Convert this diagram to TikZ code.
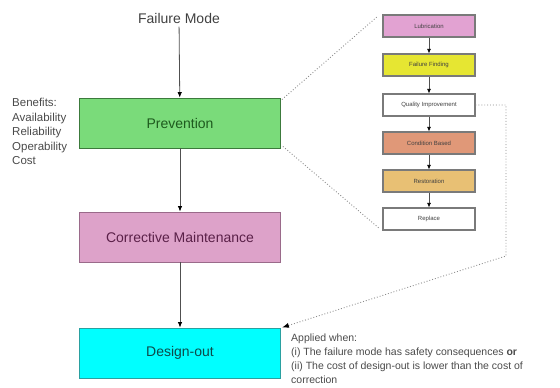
\documentclass[tikz,border=0pt]{standalone}
\usepackage{fontspec}
\setmainfont{Liberation Sans}
\usetikzlibrary{arrows.meta}
\definecolor{prevfill}{HTML}{7ADB7A}
\definecolor{prevline}{HTML}{3C7A3C}
\definecolor{prevtext}{HTML}{1E5A1E}
\definecolor{corrfill}{HTML}{DDA2C9}
\definecolor{corrline}{HTML}{9A6A8A}
\definecolor{corrtext}{HTML}{5A2048}
\definecolor{desfill}{HTML}{00FFFF}
\definecolor{desline}{HTML}{2AA0A0}
\definecolor{destext}{HTML}{0E4A4A}
\definecolor{lubfill}{HTML}{E2A2D2}
\definecolor{fffill}{HTML}{E6E632}
\definecolor{cbfill}{HTML}{E09878}
\definecolor{restfill}{HTML}{E8C074}
\definecolor{boxline}{HTML}{7A7A7A}
\definecolor{flow}{HTML}{505050}
\definecolor{note}{HTML}{4A4A4A}
\tikzset{
  mainbox/.style={draw, line width=0.9pt, minimum width=201pt, minimum height=50pt,
    inner sep=0pt, font=\fontsize{14}{16}\selectfont},
  smallbox/.style={draw=boxline, line width=1.1pt, minimum width=92pt, minimum height=22pt,
    inner sep=0pt, text=black!75, font=\fontsize{6}{7}\selectfont},
  flowarrow/.style={draw=flow, line width=0.8pt, -{Latex[length=5.5pt,width=4.5pt,color=black]}},
  linkline/.style={draw=black!45, line width=0.9pt, dotted},
  notetext/.style={text=note, align=left, inner sep=0pt, anchor=north west}
}
\begin{document}
\begin{tikzpicture}[x=1pt,y=-1pt]
\useasboundingbox (0,0) rectangle (560,388);

% main chain
\node[font=\fontsize{14}{16}\selectfont, text=black!75] (fm) at (179,18) {Failure Mode};
\node[mainbox, fill=prevfill, draw=prevline, text=prevtext] (prev) at (180,123) {Prevention};
\node[mainbox, fill=corrfill, draw=corrline, text=corrtext] (corr) at (180,237) {Corrective Maintenance};
\node[mainbox, fill=desfill, draw=desline, text=destext] (des) at (180,353) {Design-out};

\draw[flowarrow] (fm) -- (prev);
\draw[flowarrow] (prev) -- (corr);
\draw[flowarrow] (corr) -- (des);

% benefits of prevention
\node[notetext, font=\fontsize{11.5}{14.5}\selectfont] (ben) at (12,98)
  {Benefits:\\Availability\\Reliability\\Operability\\Cost};

% prevention tasks
\node[smallbox, fill=lubfill] (lub) at (429,26) {Lubrication};
\node[smallbox, fill=fffill] (ff) at (429,65) {Failure Finding};
\node[smallbox, fill=white] (qi) at (429,105) {Quality Improvement};
\node[smallbox, fill=cbfill] (cb) at (429,143) {Condition Based};
\node[smallbox, fill=restfill] (rest) at (429,181) {Restoration};
\node[smallbox, fill=white] (rep) at (429,219) {Replace};

\foreach \a/\b in {lub/ff, ff/qi, qi/cb, cb/rest, rest/rep}
  \draw[flowarrow, line width=0.7pt, -{Latex[length=4.5pt,width=4pt,color=black]}] (\a) -- (\b);

% expansion of the prevention box
\coordinate (ltop) at ([xshift=-5pt,yshift=-2pt]lub.north west);
\coordinate (lbot) at ([xshift=-3pt,yshift=2pt]rep.south west);
\draw[linkline] ([xshift=1pt,yshift=-2pt]prev.north east) -- (ltop);
\draw[linkline] ([xshift=2pt,yshift=2pt]prev.south east) -- (lbot);

% quality improvement leads to design-out
\coordinate (qa) at (506,105);
\coordinate (qb) at (506,256);
\draw[linkline, -{Latex[length=7pt,width=5pt,color=black]}]
  (qi.east) -- (qa) -- (qb) -- ([xshift=1pt]des.north east);

% conditions for design-out
\node[notetext, font=\fontsize{10.5}{14}\selectfont] (app) at (291,334)
  {Applied when:\\
   (i) The failure mode has safety consequences \textbf{or}\\
   (ii) The cost of design-out is lower than the cost of\\
   correction};
\end{tikzpicture}
\end{document}
